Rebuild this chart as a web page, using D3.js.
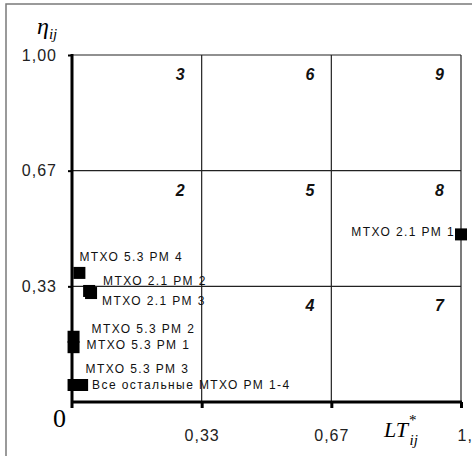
<!DOCTYPE html>
<html>
<head>
<meta charset="utf-8">
<script src="https://cdn.jsdelivr.net/npm/d3@7"></script>
<style>
  body { margin: 0; background: #fff; }
  svg { display: block; }
  .lbl { font-family: "Liberation Sans", Arial, sans-serif; font-size: 12px; letter-spacing: 1.4px; fill: #111; }
  .tick text { font-family: "Liberation Sans", Arial, sans-serif; font-size: 16px; letter-spacing: 1px; fill: #222; }
  .num { font-family: "Liberation Sans", Arial, sans-serif; font-size: 16px; font-weight: bold; font-style: italic; fill: #111; }
  .math { font-family: "Liberation Serif", "Times New Roman", serif; font-style: italic; fill: #000; }
  .zero { font-family: "Liberation Serif", "Times New Roman", serif; font-size: 26px; fill: #000; }
</style>
</head>
<body>
<script>
// ------------  DATA  ------------
const pointNames = ["МТХО 5.3 РМ 4", "МТХО 2.1 РМ 2", "МТХО 2.1 РМ 3", "МТХО 5.3 РМ 2",
                    "МТХО 5.3 РМ 1", "МТХО 5.3 РМ 3", "Все остальные МТХО РМ 1-4", "МТХО 2.1 РМ 1"];
const ltValues  = [0.019, 0.044, 0.049, 0.004, 0.004, 0.004, 0.026, 1.0];
const etaValues = [0.372, 0.320, 0.314, 0.188, 0.158, 0.049, 0.049, 0.483];

const tickValues = [1/3, 2/3, 1];
const tickLabels = ["0,33", "0,67", "1,00"];
const regionNumbers = ["3", "6", "9", "2", "5", "8", "", "4", "7"]; // row by row, top to bottom

// ------------  PARAMETERS  ------------
const width = 472, height = 456;
const x0 = 72, x1 = 461, yTop = 55, yBottom = 402;
const markerSize = 12;
// label offsets from the marker centre: dx, dy, anchor
const labelOffsets = [[0, -12, "start"], [14, -6, "start"], [11, 12, "start"], [18, -4, "start"],
                      [13, 2, "start"], [12, -12, "start"], [10, 4, "start"], [-6, 1.5, "end"]];

const svg = d3.select("body").append("svg").attr("width", width).attr("height", height);

// outer frame
svg.append("rect").attr("x", 6).attr("y", 4).attr("width", width + 10).attr("height", height + 10)
  .attr("fill", "none").attr("stroke", "#7a7a7a").attr("stroke-width", 1.5);

// ------------  SCALES  ------------
const x = d3.scaleLinear().domain([0, 1]).range([x0, x1]);
const y = d3.scaleLinear().domain([0, 1]).range([yBottom, yTop]);

// ------------  GRID  ------------
svg.selectAll("line.vgrid").data(tickValues).enter().append("line")
  .attr("x1", d => x(d)).attr("x2", d => x(d)).attr("y1", y(0)).attr("y2", y(1))
  .attr("stroke", "#222").attr("stroke-width", 1.2);
svg.selectAll("line.hgrid").data(tickValues).enter().append("line")
  .attr("x1", x(0)).attr("x2", x(1)).attr("y1", d => y(d)).attr("y2", d => y(d))
  .attr("stroke", "#222").attr("stroke-width", 1.2);

// region numbers
svg.selectAll("text.num").data(regionNumbers).enter().append("text")
  .attr("class", "num")
  .attr("x", (d, i) => x((i % 3 + 1) / 3) - 17)
  .attr("y", (d, i) => y(1 - Math.floor(i / 3) / 3) + 25)
  .attr("text-anchor", "end")
  .text(d => d);

// ------------  AXES  ------------
const yAxis = d3.axisLeft(y).tickValues(tickValues).tickFormat((d, i) => tickLabels[i])
  .tickSize(4).tickSizeOuter(0).tickPadding(11);
const gy = svg.append("g").attr("transform", "translate(" + x0 + ",0)").call(yAxis);
gy.select(".domain").remove();
gy.selectAll(".tick line").attr("stroke", "#000").attr("stroke-width", 2);

const xAxis = d3.axisBottom(x).tickValues(tickValues).tickFormat((d, i) => tickLabels[i])
  .tickSize(6).tickSizeOuter(0).tickPadding(22);
const gx = svg.append("g").attr("transform", "translate(0," + yBottom + ")").call(xAxis);
gx.select(".domain").remove();
gx.selectAll(".tick line").attr("stroke", "#000").attr("stroke-width", 3);
gx.selectAll(".tick text").filter((d, i) => i === 2).attr("text-anchor", "start").attr("dx", -4);

// thick axis lines
svg.append("line").attr("x1", x0).attr("x2", x0).attr("y1", yTop - 1).attr("y2", yBottom + 6)
  .attr("stroke", "#000").attr("stroke-width", 3);
svg.append("line").attr("x1", x0 - 1).attr("x2", x1 + 1).attr("y1", yBottom).attr("y2", yBottom)
  .attr("stroke", "#000").attr("stroke-width", 3);

// axis titles
const eta = svg.append("text").attr("class", "math").attr("x", 37).attr("y", 34).attr("font-size", 24);
eta.append("tspan").text("η");
eta.append("tspan").attr("font-size", 15).attr("dy", 5).text("ij");

svg.append("text").attr("class", "zero").attr("x", 53).attr("y", 427).text("0");

const lt = svg.append("text").attr("class", "math").attr("x", 384).attr("y", 437).attr("font-size", 22);
lt.append("tspan").text("LT");
lt.append("tspan").attr("font-size", 15).attr("dx", 1).attr("dy", -12).style("font-style", "normal").text("*");
lt.append("tspan").attr("font-size", 15).attr("dx", -7).attr("dy", 20).text("ij");

// ------------  POINTS  ------------
svg.selectAll("rect.pt").data(pointNames).enter().append("rect")
  .attr("class", "pt")
  .attr("x", (d, i) => x(ltValues[i]) - markerSize / 2)
  .attr("y", (d, i) => y(etaValues[i]) - markerSize / 2)
  .attr("width", markerSize).attr("height", markerSize)
  .attr("fill", "#000");

svg.selectAll("text.lbl").data(pointNames).enter().append("text")
  .attr("class", "lbl")
  .attr("x", (d, i) => x(ltValues[i]) + labelOffsets[i][0])
  .attr("y", (d, i) => y(etaValues[i]) + labelOffsets[i][1])
  .attr("text-anchor", (d, i) => labelOffsets[i][2])
  .text(d => d);
</script>
</body>
</html>
